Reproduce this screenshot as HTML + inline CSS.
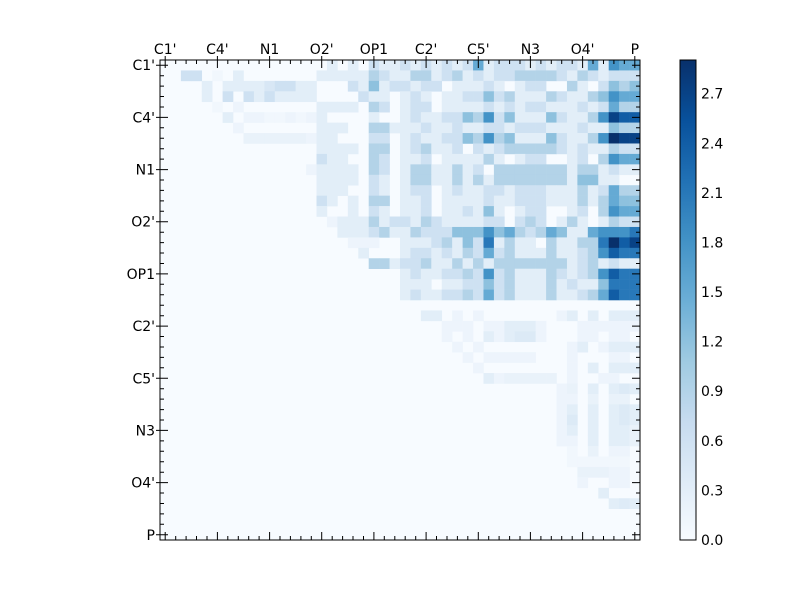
<!DOCTYPE html>
<html><head><meta charset="utf-8"><style>
html,body{margin:0;padding:0;background:#fff;overflow:hidden;}
svg{display:block;font-family:"DejaVu Sans","Liberation Sans",sans-serif;}
</style></head><body>
<svg id="s" width="800" height="600" xmlns="http://www.w3.org/2000/svg">
<defs>
<linearGradient id="cb" x1="0" y1="1" x2="0" y2="0">
<stop offset="0" stop-color="#f7fbff"/><stop offset="0.125" stop-color="#deebf7"/>
<stop offset="0.25" stop-color="#c6dbef"/><stop offset="0.375" stop-color="#9ecae1"/>
<stop offset="0.5" stop-color="#6baed6"/><stop offset="0.625" stop-color="#4292c6"/>
<stop offset="0.75" stop-color="#2171b5"/><stop offset="0.875" stop-color="#08519c"/>
<stop offset="1" stop-color="#08306b"/></linearGradient>
</defs>
<g id="cells"></g>
<g id="ax" stroke="#000" fill="none"></g>
<g id="txt" font-size="14" fill="#000"></g>
<rect x="680" y="60" width="16" height="480" fill="url(#cb)" stroke="#000"/>
</svg>
<script>
const N=46,X0=160,Y0=60,W=480,cw=W/N;
const M=[];for(let r=0;r<N;r++){M.push(new Array(N).fill(0));}
const R=[
"2 1 2 1 2 1 2 5 1 2 2 2 1 2 1 2 2 1 5 1 6 5 5",
"1 3 3 1 2 3 1 2 1 2 2 3 3 3 3 2 1 3 2 1 2 2 2",
"2 1 2 2 0 1 1 1 2 1 0 1 2 2 0 0 3 1 0 2 4 3 4",
"1 2 1 0 1 1 2 2 4 2 3 1 1 1 3 2 1 1 3 4 6 5 5",
"1 2 2 0 1 1 1 1 2 1 2 1 2 2 1 1 1 2 1 2 5 3 3",
"1 2 1 1 2 2 4 3 6 2 4 1 1 1 4 2 1 1 3 6 9 8 8",
"1 1 2 1 1 2 1 1 2 2 1 2 2 2 1 1 1 2 1 1 4 3 3",
"1 2 1 1 2 2 4 3 6 3 4 1 1 1 4 2 1 1 3 6 10 9 9",
"1 2 3 1 1 2 0 2 1 2 3 3 3 3 3 2 1 2 1 1 3 2 2",
"1 1 2 0 1 1 1 1 3 1 0 1 2 2 0 0 1 2 0 3 6 5 5",
"1 3 3 1 1 3 1 2 0 3 3 3 3 3 3 3 1 3 3 1 2 1 1",
"1 3 3 1 1 3 1 3 1 3 3 3 3 3 3 3 1 4 4 1 1 0 0",
"1 2 2 0 1 2 1 1 2 2 1 2 2 2 1 1 1 3 1 2 5 3 3",
"1 1 2 0 1 1 1 1 2 1 1 2 2 2 1 1 1 3 1 3 5 4 4",
"1 1 2 0 1 1 2 1 4 1 0 1 2 2 0 0 1 2 0 3 6 5 5",
"2 1 3 2 1 1 1 1 2 2 0 2 3 2 0 1 3 1 0 1 3 2 2",
"1 3 2 2 2 4 4 4 6 4 5 3 2 3 5 4 1 1 5 6 6 6 7",
"1 1 1 2 3 1 4 2 7 1 3 1 1 0 3 1 1 3 3 7 10 8 9",
"1 2 2 1 2 1 3 2 5 2 3 1 1 1 3 1 1 2 3 6 8 7 7",
"2 2 3 1 1 3 1 3 1 3 3 3 3 3 3 3 1 2 3 1 2 1 1",
"1 2 1 1 2 2 3 2 6 2 3 1 1 1 3 2 1 2 3 6 8 7 7",
"1 1 1 0 1 1 2 2 4 2 3 1 1 1 3 1 2 1 1 4 7 7 7",
"1 2 1 1 2 2 3 2 5 2 3 1 1 1 3 1 1 2 3 5 8 7 7"];
R.forEach((s,r)=>{const a=s.split(" ").map(Number);
 const off=N-a.length;a.forEach((v,i)=>{M[r][off+i]=v;});});
const L={0:{16:1,18:1,20:2,21:1,22:1},1:{2:2,3:2,5:.3,7:1,15:1,16:1,17:1,18:1,19:1,20:3,21:2,22:1},
2:{4:1,6:1,7:1,8:1,9:1,10:1.5,11:2,12:2,13:1,14:1,18:2,19:1,20:4,21:1,22:2},
3:{4:1,6:2,8:2,9:1,10:2,11:1,12:1,13:1,14:1,19:2,20:1,21:1},
4:{5:.3,7:.5,15:1,16:1,17:1,18:1,20:3,21:2},5:{6:1,8:.5,9:.5,10:.3,11:.3,12:.5,13:.3,14:.5,15:1,20:1},
6:{7:.5,15:1,16:1,17:1,20:3,21:3,22:1},7:{8:.7,9:.7,10:.7,11:.7,12:.7,13:.7,14:.5,15:1,16:1,20:2,21:2},
8:{15:1,16:1,17:1,18:1,20:3,21:3},9:{15:2,16:1,17:1,20:3,21:2},10:{14:.5,15:1,16:1,17:1,18:1,20:3,21:2},
11:{15:1,16:1,17:1,18:1,20:2,21:1},12:{15:1,16:1,17:1,20:2,21:1},13:{15:2,16:1,18:1,20:3,21:3},
14:{15:1,18:1,20:2,21:1},15:{16:.5,17:1,18:1,19:1,20:3,21:1,22:2},16:{17:1,18:1,19:1,20:2,21:3,22:1},
17:{18:.5,19:.5,20:.5},18:{19:1},19:{20:3,21:3,22:1},
24:{25:1,26:1,28:.5,30:.5,38:.5,39:1,41:1,43:1,44:1,45:1},
25:{27:.5,28:.5,29:.5,31:.5,32:.5,33:1,34:1,35:1,36:.5,40:.5,41:.5,42:.5,43:.5,44:.5,45:.5},
26:{27:.5,29:.5,31:1,32:.5,33:1,34:1.3,35:1.3,36:.5,40:.5,41:.5,43:.5,44:.5},
27:{28:.5,30:.5,39:.5,40:1,42:.5,43:1,44:1,45:1},28:{29:.5,31:.5,32:.5,33:.5,34:.5,35:.5,39:.5,43:.5,44:.5},
29:{30:.5,39:.5,41:1,43:1,44:1,45:1},30:{31:1,32:.5,33:.7,34:.7,35:.7,36:.7,37:.7,39:.5,42:.5,43:.5},
31:{38:.5,39:.7,41:1,43:1,44:1.3,45:1},32:{38:.5,39:.5,41:.7,43:.7,44:.7},
33:{38:.5,39:1,41:1,43:1,44:1.3,45:1},34:{38:.5,39:1.3,41:1,43:1,44:1.3,45:1},
35:{38:.5,39:1,41:1,43:1,44:1,45:.7},36:{38:.5,39:.5,41:1,43:1,44:1,45:.7},37:{39:.3,41:.7,43:.5,44:.5},
38:{39:.3,40:.3,41:.3,42:.3,43:.3,44:.3},39:{40:.7,41:.7,42:.7,43:.5,44:.5},40:{40:.5,43:.5,44:.5},
41:{42:1},42:{43:1,44:1.2,45:1}};
for(const r in L)for(const c in L[r])M[r][c]=L[r][c];
const st=[[247,251,255],[222,235,247],[198,219,239],[158,202,225],[107,174,214],[66,146,198],[33,113,181],[8,81,156],[8,48,107]];
function col(d){let t=Math.min(1,d*0.3/2.9)*8;let i=Math.min(7,Math.floor(t)),f=t-i;
 const a=st[i],b=st[i+1];return`rgb(${a.map((x,k)=>Math.round(x+(b[k]-x)*f)).join(",")})`;}
const NS="http://www.w3.org/2000/svg";
function el(p,n,at){const e=document.createElementNS(NS,n);for(const k in at)e.setAttribute(k,at[k]);p.appendChild(e);return e;}
const g=document.getElementById("cells");
el(g,"rect",{x:X0,y:Y0,width:W,height:W,fill:"#f7fbff"});
for(let r=0;r<N;r++)for(let c=0;c<N;c++)if(M[r][c]>0)
 el(g,"rect",{x:(X0+c*cw).toFixed(2),y:(Y0+r*cw).toFixed(2),width:(cw+0.3).toFixed(2),height:(cw+0.3).toFixed(2),fill:col(M[r][c])});
const ax=document.getElementById("ax");
let d="";
for(let i=0;i<N;i++){const px=(X0+(i+0.5)*cw).toFixed(1),py=(Y0+(i+0.5)*cw).toFixed(1);const len=(i%5==0)?8:4;
 d+=`M${px} ${Y0}v${len}M${px} ${Y0+W}v-${len}M${X0} ${py}h${len}M${X0+W} ${py}h-${len}`;
 if(i%5==0)d+=`M${px} ${Y0}v-4M${X0} ${py}h-4`;}
el(ax,"path",{d:d,"stroke-width":1});
el(ax,"rect",{x:X0,y:Y0,width:W,height:W,"stroke-width":1});
let d2="";for(let k=0;k<=9;k++){const y=(540-k*0.3*480/2.904).toFixed(1);d2+=`M696 ${y}h-4M680 ${y}h4`;}
el(ax,"path",{d:d2});
const tx=document.getElementById("txt");
const labs=["C1'","C4'","N1","O2'","OP1","C2'","C5'","N3","O4'","P"];
labs.forEach((s,i)=>{const px=X0+(i*5+0.5)*cw,py=Y0+(i*5+0.5)*cw;
 el(tx,"text",{x:px.toFixed(1),y:54,"text-anchor":"middle"}).textContent=s;
 el(tx,"text",{x:155,y:(py+5).toFixed(1),"text-anchor":"end"}).textContent=s;});
for(let k=0;k<=9;k++){const y=540-k*0.3*480/2.904;
 el(tx,"text",{x:701,y:(y+5).toFixed(1)}).textContent=(k*0.3).toFixed(1);}
</script>
</body></html>
